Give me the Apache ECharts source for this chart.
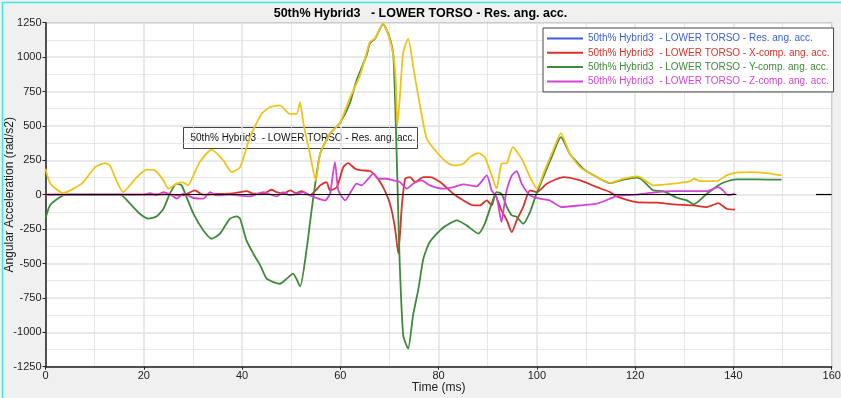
<!DOCTYPE html>
<html>
<head>
<meta charset="utf-8">
<script src="https://cdn.jsdelivr.net/npm/echarts@6/dist/echarts.min.js"></script>
<style>
  html, body { margin: 0; padding: 0; background: #f0f0f0; }
  #chart { width: 841px; height: 398px; }
</style>
</head>
<body>
<div id="chart"></div>
<script>
// time (ms) / angular acceleration (rad/s2)
const resTime = [0,1,3.6,5.7,7.7,10.1,12.1,13.1,15.8,18.6,20.6,22.3,24,25,26.7,28,29,30.1,31.4,33.8,36.2,37.9,39.6,41.6,44,45.7,47.7,49.7,51.1,51.8,52.5,53.8,55,55.9,57.9,59.9,61.9,64,65.4,66,67,68.7,69.8,70.8,71.3,71.6,72.1,72.8,73.8,74.9,76.2,77.6,79.6,81.6,83,85,86.4,88.1,89.4,90.8,91.8,92.8,93.9,95.1,96.9,98.6,100,101.6,103.3,104.9,106.7,108.8,111.5,114.9,117.6,120.6,122,123.7,127.8,131.2,132,133.2,136.6,138.6,140.6,143.4,146.8,149.8]
const resVal = [189,80,12,44,92,200,230,213,19,128,182,177,104,44,80,90,68,140,237,327,249,164,200,418,588,636,649,588,588,673,516,298,104,300,443,520,698,867,1036,1109,1134,1243,1158,1012,818,503,700,1036,1134,916,649,407,310,237,213,225,273,302,273,140,44,225,230,346,262,128,44,177,322,448,298,200,140,87,116,133,104,68,80,99,116,99,99,140,160,164,157,140]

const xTime = [0,20,25,28,30.4,32,35,37.5,39.6,40.9,42.3,44.3,46,47,48.5,49.8,51,52.1,53.8,55,55.9,57.2,57.9,59.3,60.6,61.6,63,64.3,66,67.4,68.7,70.1,71.1,71.8,72.5,73.2,74.2,75.2,76.9,78.2,80.3,83,85,87.1,88.4,89.8,90.8,91.5,92.8,93.9,94.9,95.9,97.2,98.6,100,102,105.4,108.8,112.2,114.9,116.2,120.3,124.4,127.8,131.9,134.6,136.9,138.6,140.3]
const xVal = [0,0,3,-5,31,0,5,7,19,26,7,7,36,19,10,31,12,26,-5,31,68,92,31,55,200,230,189,177,172,128,55,-65,-235,-429,-90,116,128,92,128,128,92,7,-41,-78,-78,-41,-78,-5,-114,-187,-272,-187,-90,31,19,80,128,104,55,19,-12,-54,-58,-70,-78,-90,-61,-102,-109]

const yTime = [0,0.9,3,4.3,10,15.2,17.2,19.2,20.9,22.6,24,25.3,26.7,27.7,28.7,30.1,32.1,33.8,35.5,37.5,38.9,39.6,40.9,42.3,43.7,45,46.4,47.7,49.1,50.4,51.8,53.2,53.8,54.6,55,55.9,57.9,59.9,61.9,63.3,65.4,66,67,68.7,70.1,70.8,71.3,71.8,72.1,72.8,73.8,74.8,75.9,76.9,78.2,80.3,81.6,83.7,85.7,88.1,89.4,90.8,91.8,92.8,93.9,94.9,95.9,97.2,98.6,99.8,101.3,103,104.9,106.7,109.4,112.2,114.9,117.6,120.3,121.4,123.7,125.7,128.5,130.5,131.9,134.6,136.6,137.9,140.6,144.7,149.8]
const yVal = [-174,-78,-17,0,0,0,-65,-138,-174,-158,-102,7,80,68,-17,-138,-259,-320,-283,-175,-158,-175,-332,-429,-514,-610,-635,-647,-610,-574,-666,-381,-211,7,104,300,443,520,661,830,1020,1100,1130,1240,1134,1012,503,-150,-514,-1022,-1119,-877,-683,-465,-344,-259,-223,-187,-223,-283,-211,-65,19,7,-90,-150,-162,-211,-126,-5,128,273,418,298,189,128,84,109,124,109,31,26,-22,-41,-70,7,60,87,111,111,109]

const zTime = [0,20,21.3,22.5,24,25.5,26.7,28,29,30.1,32.1,33.5,34.8,37.5,41.6,44.3,47,48.4,49.8,52.5,53.8,56.9,57.9,58.9,59.6,61,62.3,63.3,64.3,65.4,66.7,67.7,69.4,70.8,72.1,73.5,74.8,76.6,78.2,81,83,85,87.7,89.8,90.8,91.8,92.8,93.7,94.9,95.9,96.9,98.6,100.6,102.6,105,108.8,112.2,114.9,116.2,120.3,124.4,127.8,131.2,134.6,136.9,137.9,138.9,140.3]
const zVal = [0,0,12,-5,19,0,-29,7,-5,-24,-29,19,-5,0,-12,19,-12,19,-5,19,-5,-41,7,237,31,-41,31,80,68,104,153,116,116,104,92,44,80,104,68,44,55,75,60,140,31,-17,-199,7,140,172,80,-5,-29,-41,-90,-78,-65,-29,-10,0,19,26,26,26,55,31,-5,7]

// zero reference line pieces (ms)
const zeroSpans = [[0, 140.6], [156.8, 160]]

const names = [
  '50th% Hybrid3  - LOWER TORSO - Res. ang. acc.',
  '50th% Hybrid3  - LOWER TORSO - X-comp. ang. acc.',
  '50th% Hybrid3  - LOWER TORSO - Y-comp. ang. acc.',
  '50th% Hybrid3  - LOWER TORSO - Z-comp. ang. acc.'
]
const legendColors = ['#3a5fd9', '#d8322a', '#3f8a3a', '#d444d4']
const lineColors = ['#f0c419', '#d8322a', '#3f8a3a', '#d444d4']

const pairs = (t, v) => t.map((x, i) => [x, v[i]])
const seriesData = [pairs(resTime, resVal), pairs(xTime, xVal), pairs(yTime, yVal), pairs(zTime, zVal)]

const chart = echarts.init(document.getElementById('chart'))

const font = 'Arial, "Liberation Sans", sans-serif'

const axisCommon = {
  type: 'value',
  nameLocation: 'middle',
  nameMoveOverlap: false,
  nameTextStyle: { fontFamily: font, fontSize: 12, color: '#222' },
  axisLine: { onZero: false, lineStyle: { color: '#222', width: 1.5 } },
  axisTick: { show: true, length: 3, lineStyle: { color: '#222' } },
  axisLabel: { fontFamily: font, fontSize: 11, color: '#222', margin: 4, formatter: v => String(v) },
  splitLine: { show: true, lineStyle: { color: '#e2e2e2', width: 1.5 } },
  minorTick: { show: false, splitNumber: 2 },
  minorSplitLine: { show: true, lineStyle: { color: '#cfcfcf', type: 'dotted', width: 1 } }
}

const option = {
  backgroundColor: '#f0f0f0',
  animation: false,
  title: {
    text: '50th% Hybrid3   - LOWER TORSO - Res. ang. acc.',
    left: 'center',
    top: 2,
    textStyle: { fontFamily: font, fontSize: 12.5, fontWeight: 'bold', color: '#000' }
  },
  legend: {
    orient: 'vertical',
    left: 543,
    top: 28,
    padding: [4, 4, 4, 4],
    itemGap: 1.3,
    itemWidth: 36,
    itemHeight: 2,
    icon: 'rect',
    backgroundColor: '#fff',
    borderColor: '#444',
    borderWidth: 1,
    selectedMode: false,
    textStyle: { fontFamily: font, fontSize: 10, lineHeight: 13 },
    data: names.map((n, i) => ({
      name: n,
      icon: 'rect',
      itemStyle: { color: legendColors[i] },
      textStyle: { color: legendColors[i] }
    }))
  },
  grid: {
    left: 45.5,
    top: 22.7,
    right: 9.3,
    bottom: 31.3,
    containLabel: false,
    outerBoundsMode: 'none',
    show: true,
    backgroundColor: '#fff',
    borderColor: '#777',
    borderWidth: 1
  },
  xAxis: Object.assign({}, axisCommon, {
    min: 0,
    max: 160,
    interval: 20,
    name: 'Time (ms)',
    nameGap: 15
  }),
  yAxis: Object.assign({}, axisCommon, {
    min: -1250,
    max: 1250,
    interval: 250,
    name: 'Angular Acceleration (rad/s2)',
    nameGap: 30
  }),
  series: [
    {
      name: 'zero',
      type: 'line',
      data: [],
      silent: true,
      markLine: {
        silent: true,
        symbol: 'none',
        label: { show: false },
        lineStyle: { color: '#000', width: 1.2, type: 'solid' },
        data: zeroSpans.map(s => [{ coord: [s[0], 0] }, { coord: [s[1], 0] }])
      }
    }
  ].concat([1, 2, 3, 0].map(i => ({
    name: names[i],
    type: 'line',
    data: seriesData[i],
    symbol: 'none',
    showSymbol: false,
    smooth: 0.2,
    itemStyle: { color: legendColors[i] },
    lineStyle: { color: lineColors[i], width: 1.8 }
  }))),
  graphic: [
    {
      type: 'group',
      left: 183,
      top: 127,
      z: 100,
      children: [
        {
          type: 'rect',
          shape: { x: 0, y: 0, width: 234, height: 21 },
          style: { fill: '#fff', stroke: '#444', lineWidth: 1 }
        },
        {
          type: 'text',
          x: 7,
          y: 11,
          style: {
            text: '50th% Hybrid3  - LOWER TORSO - Res. ang. acc.',
            fontFamily: font,
            fontSize: 10,
            fill: '#111',
            verticalAlign: 'middle'
          }
        }
      ]
    },
    {
      type: 'rect',
      left: 0,
      top: 0,
      z: 100,
      silent: true,
      shape: { x: 0, y: 0, width: 840, height: 397 },
      style: { fill: 'none', stroke: '#3ee8e8', lineWidth: 1.5 }
    }
  ]
}

chart.setOption(option)
</script>
</body>
</html>
